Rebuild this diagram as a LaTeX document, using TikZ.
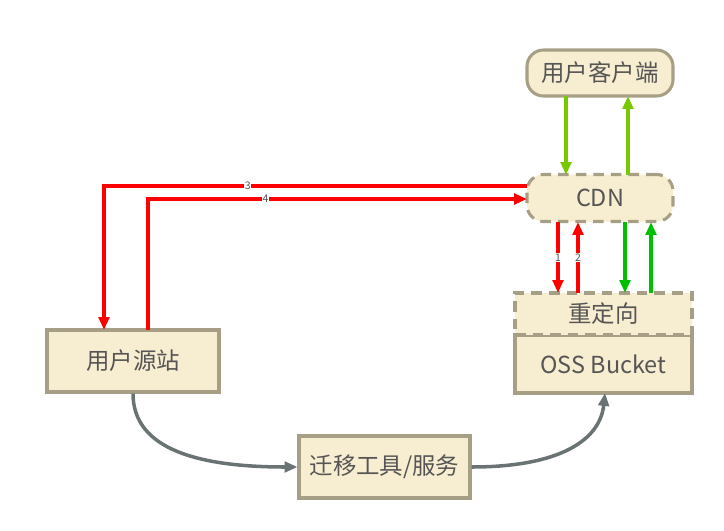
\documentclass[tikz,border=0pt]{standalone}
\usepackage{fontspec}
\setmainfont{Noto Sans CJK SC}
\usetikzlibrary{arrows.meta}
\definecolor{boxfill}{HTML}{F7EDD0}
\definecolor{boxline}{HTML}{A79F85}
\definecolor{txt}{HTML}{555555}
\definecolor{gline}{HTML}{6A7373}
\tikzset{
  box/.style={rectangle,fill=boxfill,draw=boxline,line width=2.6pt,text=txt,font=\fontsize{20}{24}\selectfont,inner sep=0pt},
  rbox/.style={box,rounded corners=14pt},
  dbox/.style={dash pattern=on 9pt off 6pt},
  redarrow/.style={-{Triangle[length=11pt,width=9pt]},draw=red,line width=3pt},
  grnarrow/.style={-{Triangle[length=11pt,width=9pt]},draw=green!75!black,line width=3pt},
  ltarrow/.style={grnarrow,draw={rgb,255:red,120;green,200;blue,0}},
  grayarrow/.style={-{Triangle[length=11pt,width=9pt]},draw=gline,line width=3pt},
  num/.style={font=\fontsize{9}{10}\selectfont,text=txt,fill=white,inner sep=0.5pt},
}
\begin{document}
\begin{tikzpicture}[x=0.03cm,y=-0.03cm]
  \useasboundingbox (0,0) rectangle (724,531);
  % nodes
  \node [rbox,minimum width=4.38cm,minimum height=1.38cm] (client) at (600,73) {用户客户端};
  \node [rbox,dbox,minimum width=4.38cm,minimum height=1.41cm] (cdn) at (600,198) {CDN};
  \node [box,minimum width=5.31cm,minimum height=1.74cm] (oss) at (603.5,364) {OSS Bucket};
  \node [box,dbox,minimum width=5.31cm,minimum height=1.26cm] (redir) at (603.5,314) {重定向};
  \node [box,minimum width=5.16cm,minimum height=1.86cm] (origin) at (133,361) {用户源站};
  \node [box,minimum width=5.13cm,minimum height=1.86cm] (tool) at (384.5,467) {迁移工具/服务};
  \coordinate (c3) at (527,186);
  \coordinate (c4) at (527,199);
  % edges
  \draw [ltarrow] (566,96) -- (566,175);
  \draw [ltarrow] (628,175) -- (628,96);
  \draw [redarrow] (c3) -- node [num,pos=0.66] {3} (104,186) -- (104,330);
  \draw [redarrow] (148,330) -- (148,199) -- node [num,pos=0.31] {4} (c4);
  \draw [redarrow] (558,222) -- node [num] {1} (558,293);
  \draw [redarrow] (578,293) -- node [num] {2} (578,222);
  \draw [grnarrow] (625,222) -- (625,293);
  \draw [grnarrow] (651,293) -- (651,222);
  \draw [grayarrow] (origin.south) .. controls (133,450) and (200,467) .. (tool.west);
  \draw [grayarrow] (tool.east) .. controls (560,467) and (600,440) .. (605,393);
\end{tikzpicture}
\end{document}
